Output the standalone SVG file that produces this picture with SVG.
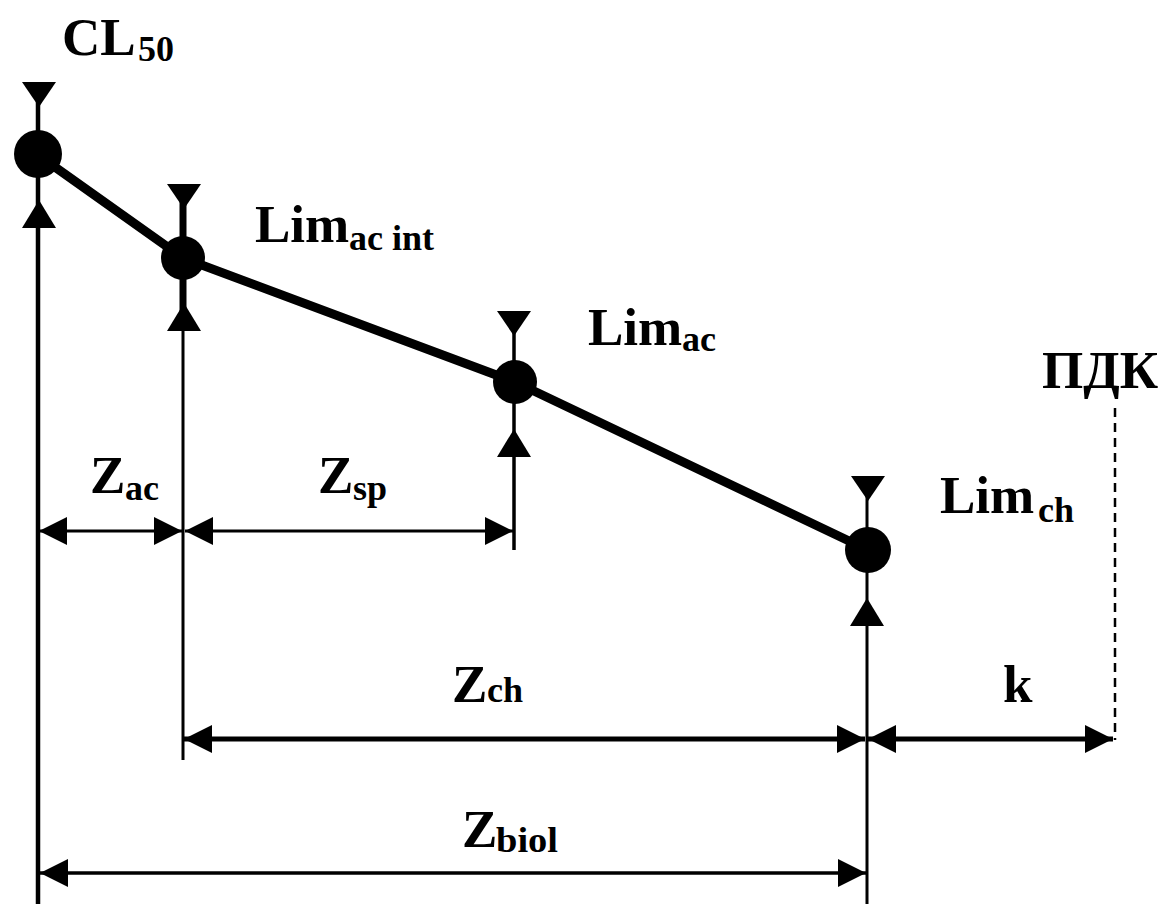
<svg xmlns="http://www.w3.org/2000/svg" width="1169" height="904" viewBox="0 0 1169 904">
<style>
.t{font-family:"Liberation Serif","Times New Roman",serif;font-weight:bold;fill:#000}
.big{font-size:53px}
.sub{font-size:36px}
.ln{stroke:#000;fill:none}
</style>
<defs>
<marker id="arr" viewBox="0 0 28 28" refX="28" refY="14" markerWidth="28" markerHeight="28" markerUnits="userSpaceOnUse" orient="auto-start-reverse">
<path d="M0,0 L28,14 L0,28 z" fill="#000"/>
</marker>
<polygon id="tdown" points="-17,0 17,0 0,25" fill="#000"/>
<polygon id="tup" points="-17,0 17,0 0,-28" fill="#000"/>
</defs>
<rect width="1169" height="904" fill="#fff"/>

<g id="connectors">
<polyline class="ln" points="38,155 183,258 515,382 868,550" stroke-width="9" stroke-linejoin="round"/>
<line class="ln" x1="38" y1="90" x2="38" y2="904" stroke-width="4.5"/>
<line class="ln" x1="183" y1="195" x2="183" y2="320" stroke-width="7"/>
<line class="ln" x1="183" y1="320" x2="183" y2="760" stroke-width="3"/>
<line class="ln" x1="514" y1="318" x2="514" y2="550" stroke-width="3.5"/>
<line class="ln" x1="867" y1="482" x2="867" y2="904" stroke-width="3"/>
<line class="ln" x1="1115" y1="408" x2="1115" y2="740" stroke-width="2.5" stroke-dasharray="9,6"/>
<line class="ln" x1="39" y1="531" x2="182" y2="531" stroke-width="3" marker-start="url(#arr)" marker-end="url(#arr)"/>
<line class="ln" x1="185" y1="531" x2="513" y2="531" stroke-width="3" marker-start="url(#arr)" marker-end="url(#arr)"/>
<line class="ln" x1="184" y1="739" x2="865" y2="739" stroke-width="5" marker-start="url(#arr)" marker-end="url(#arr)"/>
<line class="ln" x1="868" y1="739" x2="1113" y2="739" stroke-width="5" marker-start="url(#arr)" marker-end="url(#arr)"/>
<line class="ln" x1="40" y1="873" x2="866" y2="873" stroke-width="3.5" marker-start="url(#arr)" marker-end="url(#arr)"/>
</g>

<g id="cl50">
<use href="#tdown" x="39" y="82"/>
<circle cx="38" cy="154" r="24" fill="#000"/>
<use href="#tup" x="39" y="228"/>
<text class="t big" x="62" y="55">CL</text>
<text class="t sub" x="138" y="61" font-size="32">50</text>
</g>

<g id="lim-ac-int">
<use href="#tdown" x="184" y="184"/>
<circle cx="183" cy="258" r="22" fill="#000"/>
<use href="#tup" x="184" y="331"/>
<text class="t big" x="255" y="242">Lim</text>
<text class="t sub" x="349" y="250">ac int</text>
</g>

<g id="lim-ac">
<use href="#tdown" x="514" y="311"/>
<circle cx="515" cy="382" r="22" fill="#000"/>
<use href="#tup" x="514" y="457"/>
<text class="t big" x="588" y="345">Lim</text>
<text class="t sub" x="682" y="351">ac</text>
</g>

<g id="lim-ch">
<use href="#tdown" x="868" y="476"/>
<circle cx="868" cy="550" r="23" fill="#000"/>
<use href="#tup" x="867" y="626"/>
<text class="t big" x="940" y="513">Lim</text>
<text class="t sub" x="1038" y="522">ch</text>
</g>

<g id="pdk">
<text class="t big" x="1042" y="388">ПДК</text>
</g>

<g id="labels">
<text class="t big" x="90" y="493">Z</text>
<text class="t sub" x="125" y="500">ac</text>
<text class="t big" x="318" y="493">Z</text>
<text class="t sub" x="353" y="500">sp</text>
<text class="t big" x="452" y="702">Z</text>
<text class="t sub" x="487" y="702" font-size="38">ch</text>
<text class="t big" x="1003" y="702">k</text>
<text class="t big" x="462" y="847">Z</text>
<text class="t sub" x="496" y="852" textLength="62" lengthAdjust="spacingAndGlyphs">biol</text>
</g>
</svg>
